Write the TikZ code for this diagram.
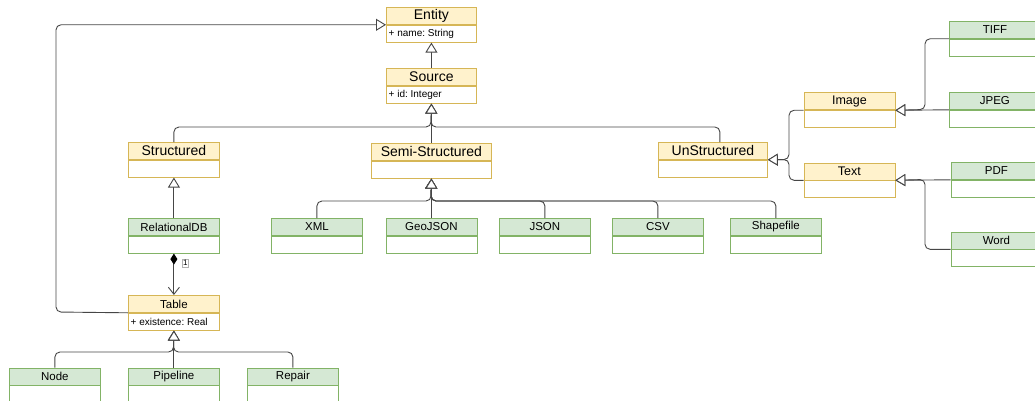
\documentclass[tikz,border=0pt]{standalone}
\usepackage{fontspec}
\setmainfont{Liberation Sans}
\frenchspacing
\definecolor{HeadYellow}{RGB}{255,242,204}
\definecolor{EdgeYellow}{RGB}{214,182,86}
\definecolor{HeadGreen}{RGB}{213,232,212}
\definecolor{EdgeGreen}{RGB}{130,179,102}
\definecolor{LineGray}{RGB}{70,70,70}
\usetikzlibrary{positioning, arrows.meta, calc}

\tikzset{
  head/.style={anchor=north west, minimum height=17pt, inner sep=0pt, line width=0.8pt, font=\fontsize{11.5}{13}\selectfont},
  body/.style={anchor=north west, minimum height=17pt, inner sep=0pt, line width=0.8pt, fill=white},
  yhead/.style={head, draw=EdgeYellow, fill=HeadYellow},
  ghead/.style={head, draw=EdgeGreen, fill=HeadGreen},
  ybody/.style={body, draw=EdgeYellow},
  gbody/.style={body, draw=EdgeGreen},
  big/.style={font=\fontsize{14}{16}\selectfont},
  mid/.style={font=\fontsize{12.5}{14}\selectfont},
  attrtext/.style={anchor=west, inner sep=0pt, xshift=2.5pt, font=\fontsize{10}{12}\selectfont},
  gen/.style={draw=LineGray, line width=0.9pt, rounded corners=5pt, -{Triangle[length=10pt, width=12pt, fill=white]}},
  comp/.style={draw=LineGray, line width=0.9pt, {Diamond[length=11pt, width=7pt, color=black]}-{Straight Barb[length=7pt, width=11pt]}},
  mult/.style={draw=gray!60, line width=0.4pt, inner sep=1pt, font=\fontsize{8}{9}\selectfont}
}

% class box: [header opts]{name}{y|g}{x}{y}{width}{title}{attribute}
\newcommand{\umlclass}[8][]{%
  \node[#3head, minimum width=#6pt, #1] (#2) at (#4,#5) {#7};
  \node[#3body, minimum width=#6pt] (#2-a) at (#2.south west) {};
  \node[attrtext] (#2-t) at (#2-a.west) {#8};
}

\begin{document}
\begin{tikzpicture}[x=1pt, y=-1pt]
  \useasboundingbox (0,0) rectangle (1035,401);

  % abstract classes
  \umlclass[big]{entity}{y}{386}{7}{90}{Entity}{+ name: String}
  \umlclass[big]{source}{y}{386}{68}{90}{Source}{+ id: Integer}
  \umlclass[big]{structured}{y}{128}{142}{91}{Structured}{}
  \umlclass[big]{semi}{y}{371}{143}{120}{Semi-Structured}{}
  \umlclass[big]{unstr}{y}{658}{142}{109}{UnStructured}{}
  \umlclass[mid]{image}{y}{803.5}{92.5}{91}{Image}{}
  \umlclass[mid]{txt}{y}{803.5}{162.5}{91}{Text}{}
  \umlclass{table}{y}{128}{295}{91}{Table}{+ existence: Real}

  % concrete classes
  \umlclass{tiff}{g}{949}{21}{91}{TIFF}{}
  \umlclass{jpeg}{g}{949}{92}{91}{JPEG}{}
  \umlclass{pdf}{g}{950.5}{162}{91}{PDF}{}
  \umlclass{word}{g}{950.5}{231.5}{91}{Word}{}
  \umlclass{reldb}{g}{128}{218}{91}{RelationalDB}{}
  \umlclass{xml}{g}{271}{218}{91}{XML}{}
  \umlclass{geojson}{g}{385.5}{218}{91}{GeoJSON}{}
  \umlclass{json}{g}{499}{218}{91}{JSON}{}
  \umlclass{csv}{g}{612}{218}{91}{CSV}{}
  \umlclass{shapefile}{g}{730}{218}{91}{Shapefile}{}
  \umlclass{nodecls}{g}{9}{367.5}{91}{Node}{}
  \umlclass{pipeline}{g}{128}{367.5}{91}{Pipeline}{}
  \umlclass{repair}{g}{247}{367.5}{91}{Repair}{}

  % bus points
  \coordinate (entloop) at (56,312);
  \coordinate (srcbus) at (431,127);
  \coordinate (semibus) at (431,201);
  \coordinate (tblbus) at (173.5,352);
  \coordinate (unsbus) at (789,159.5);
  \coordinate (imgbus) at (925,109.5);
  \coordinate (txtbus) at (925,179.5);

  % generalisations
  \draw[gen] (table.south west) -- (entloop) |- (entity.south west);
  \draw[gen] (source.north) -- (entity-a.south);
  \draw[gen] (structured.north) |- (srcbus) -- (source-a.south);
  \draw[gen] ([xshift=7pt]unstr.north) |- (srcbus) -- (source-a.south);
  \draw[gen] (semi.north) -- (source-a.south);
  \draw[gen] (reldb.north) -- (structured-a.south);
  \foreach \c in {xml, json, csv, shapefile}
    \draw[gen] (\c.north) |- (semibus) -- (semi-a.south);
  \draw[gen] (geojson.north) -- (semi-a.south);
  \foreach \c in {nodecls, repair}
    \draw[gen] (\c.north) |- (tblbus) -- (table-a.south);
  \draw[gen] (pipeline.north) -- (table-a.south);
  \foreach \c in {image, txt}
    \draw[gen] (\c.south west) -| (unsbus) -- (unstr.south east);
  \draw[gen] (tiff.south west) -| (imgbus) -- (image.south east);
  \draw[gen] (jpeg.south west) -- (image.south east);
  \draw[gen] (pdf.south west) -- (txt.south east);
  \draw[gen] (word.south west) -| (txtbus) -- (txt.south east);

  % composition
  \draw[comp] (reldb-a.south) -- node[mult, pos=0.23, right=8pt] (mult) {1} (table.north);
\end{tikzpicture}
\end{document}
